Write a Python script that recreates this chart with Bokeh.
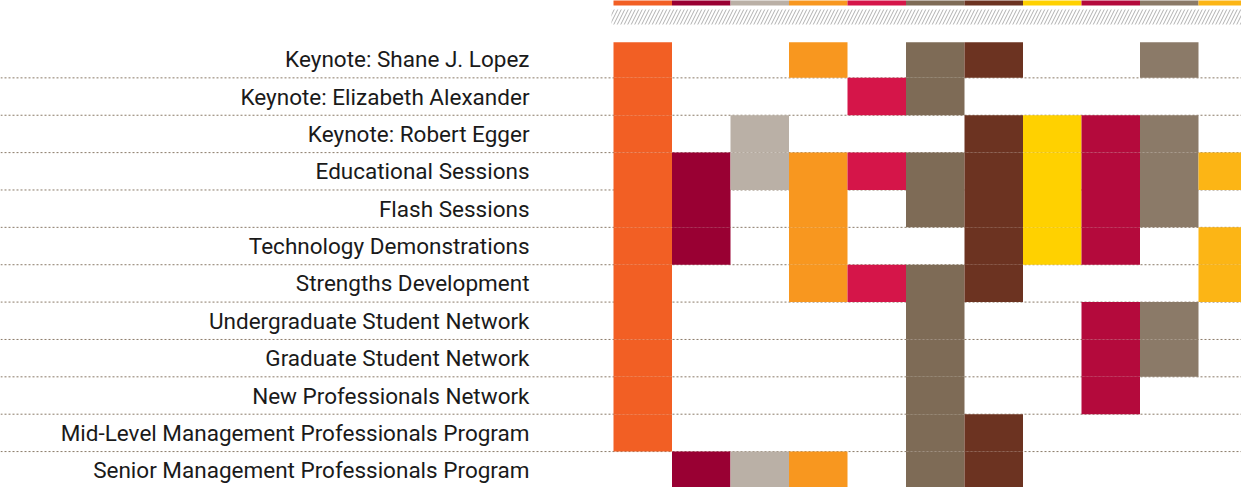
from bokeh.plotting import figure
from bokeh.models import Range1d, Span, ColumnDataSource
from bokeh.core.properties import value
from bokeh.embed import file_html
from bokeh.resources import INLINE

# ---- data ----
sessions = [
    "Keynote: Shane J. Lopez",
    "Keynote: Elizabeth Alexander",
    "Keynote: Robert Egger",
    "Educational Sessions",
    "Flash Sessions",
    "Technology Demonstrations",
    "Strengths Development",
    "Undergraduate Student Network",
    "Graduate Student Network",
    "New Professionals Network",
    "Mid-Level Management Professionals Program",
    "Senior Management Professionals Program",
]

# 1 = the session is offered in that column (11 columns, left to right)
offered = [
    [1, 0, 0, 1, 0, 1, 1, 0, 0, 1, 0],
    [1, 0, 0, 0, 1, 1, 0, 0, 0, 0, 0],
    [1, 0, 1, 0, 0, 0, 1, 1, 1, 1, 0],
    [1, 1, 1, 1, 1, 1, 1, 1, 1, 1, 1],
    [1, 1, 0, 1, 0, 1, 1, 1, 1, 1, 0],
    [1, 1, 0, 1, 0, 0, 1, 1, 1, 0, 1],
    [1, 0, 0, 1, 1, 1, 1, 0, 0, 0, 1],
    [1, 0, 0, 0, 0, 1, 0, 0, 1, 1, 0],
    [1, 0, 0, 0, 0, 1, 0, 0, 1, 1, 0],
    [1, 0, 0, 0, 0, 1, 0, 0, 1, 0, 0],
    [1, 0, 0, 0, 0, 1, 1, 0, 0, 0, 0],
    [0, 1, 1, 1, 0, 1, 1, 0, 0, 0, 0],
]

column_colors = [
    "#F25F24", "#990033", "#BAB0A6", "#F8971F", "#D51549", "#7E6B56",
    "#6C3321", "#FFD100", "#B40A3C", "#8B7A68", "#FCB515",
]

# ---- layout ----
W, H = 1241, 487
col_px, row_px = 58.5, 37.37
grid_left_px, grid_top_px = 613, 40

x0 = -grid_left_px / col_px
x1 = x0 + W / col_px
y_top = -grid_top_px / row_px
y_bot = y_top + H / row_px

p = figure(width=W, height=H, output_backend="svg", toolbar_location=None,
           x_range=Range1d(x0, x1), y_range=Range1d(y_bot, y_top),
           min_border=0, x_axis_location=None, y_axis_location=None,
           outline_line_color=None)
p.xgrid.visible = False
p.ygrid.visible = False
p.background_fill_color = "white"
p.border_fill_color = "white"

# dotted row separators (under the cells)
for j in range(1, len(sessions)):
    p.add_layout(Span(location=j, dimension="width", line_color="#8a7a68",
                      line_width=1, line_dash="2 2", level="underlay"))

# cells
cl, cr, cb, ct, cc = [], [], [], [], []
for j, row in enumerate(offered):
    for i, v in enumerate(row):
        if v:
            cl.append(i); cr.append(i + 1)
            ct.append(j + (0.05 if j == 0 else 0)); cb.append(j + 1)
            cc.append(column_colors[i])
p.quad(left=cl, right=cr, top=ct, bottom=cb, fill_color=cc, line_color=None)

# top colour strip
n = len(column_colors)
strip_bottom = y_top + 5 / row_px
p.quad(left=list(range(n)), right=[i + 1 for i in range(n)],
       top=[y_top - 1] * n, bottom=[strip_bottom] * n,
       fill_color=column_colors, line_color=None)

# hatched band
p.quad(left=[-0.035], right=[x1 + 1], top=[y_top + 9 / row_px],
       bottom=[y_top + 24 / row_px], fill_alpha=0, line_color=None,
       hatch_pattern="/", hatch_color="#b0b0b0", hatch_scale=7,
       hatch_weight=1)

# row labels
src = ColumnDataSource(dict(x=[(529 - grid_left_px) / col_px] * len(sessions),
                            y=[j + 0.5 for j in range(len(sessions))],
                            t=sessions))
p.text(x="x", y="y", text="t", source=src, text_align="right",
       text_baseline="middle", text_font=value("Roboto"),
       text_font_size="22.5px", text_color="#1a1a1a")

open("out.html", "w").write(file_html(p, INLINE))
